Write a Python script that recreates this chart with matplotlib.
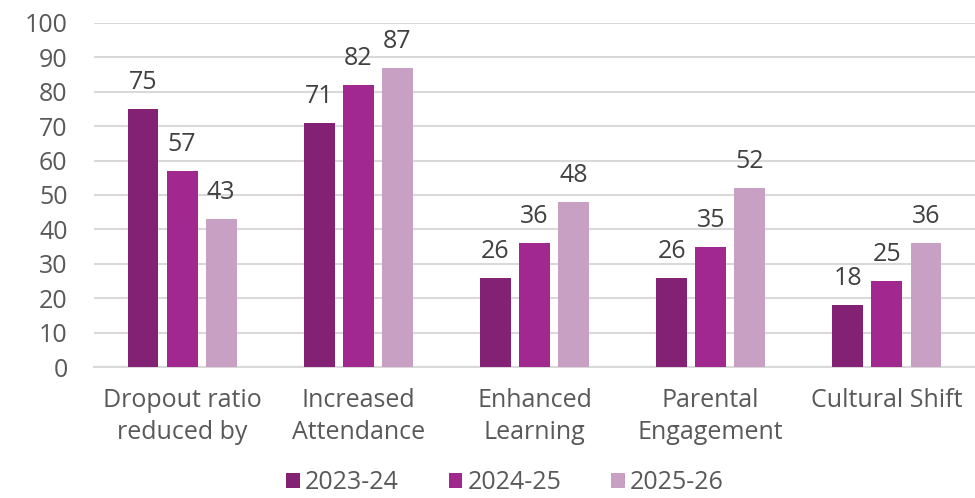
import matplotlib
matplotlib.use("Agg")
import matplotlib.pyplot as plt
import numpy as np

categories = ["Dropout ratio\nreduced by", "Increased\nAttendance", "Enhanced\nLearning",
              "Parental\nEngagement", "Cultural Shift"]
years = ["2023-24", "2024-25", "2025-26"]
values_2324 = [75, 71, 26, 26, 18]
values_2425 = [57, 82, 36, 35, 25]
values_2526 = [43, 87, 48, 52, 36]
colors = ["#832175", "#A0288F", "#C8A0C4"]

plt.rcParams['font.family'] = ['Open Sans', 'DejaVu Sans']

fig = plt.figure(figsize=(9.75, 4.98), dpi=100)
ax = fig.add_axes([0.0964, 0.263, 0.9036, 0.691])

x = np.arange(len(categories))
width = 0.175
offset = 0.222
series = [values_2324, values_2425, values_2526]

for i, (vals, col, lab) in enumerate(zip(series, colors, years)):
    bars = ax.bar(x + (i - 1) * offset, vals, width, color=col, label=lab, zorder=3)
    ax.bar_label(bars, padding=10, fontsize=18, color="#404040")

ax.set_xlim(-0.5, 4.5)
ax.set_ylim(0, 100)
ax.set_yticks(range(0, 101, 10))
ax.yaxis.grid(True, color="#d9d9d9", linewidth=1.5, zorder=0)
ax.set_axisbelow(True)
for s in ["top", "right", "left"]:
    ax.spines[s].set_visible(False)
ax.spines["bottom"].set_color("#d9d9d9")
ax.spines["bottom"].set_linewidth(1.5)
ax.tick_params(axis="both", length=0, labelsize=18, colors="#595959")
ax.tick_params(axis="y", pad=19)
ax.tick_params(axis="x", pad=15)
ax.set_xticks(x)
ax.set_xticklabels(categories, linespacing=1.4)

leg = fig.legend(loc="lower center", bbox_to_anchor=(0.518, -0.04), ncol=3, frameon=False,
                 fontsize=18, handlelength=0.55, handleheight=0.55, handletextpad=0.2,
                 columnspacing=2.0)
for t in leg.get_texts():
    t.set_color("#595959")

fig.savefig("out.png", dpi=100)
